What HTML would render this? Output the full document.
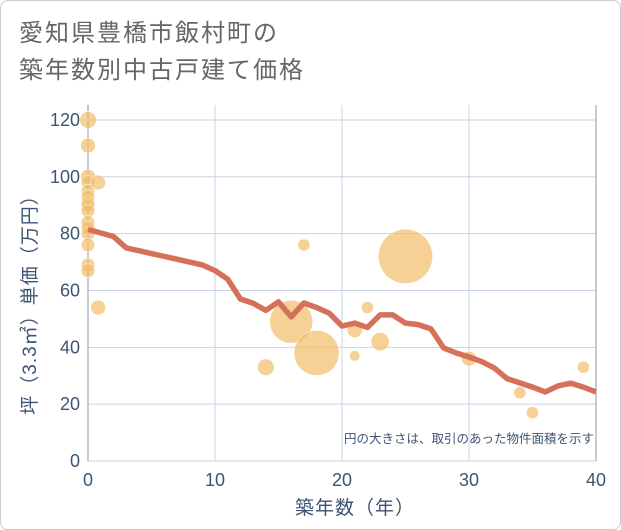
<!DOCTYPE html>
<html><head><meta charset="utf-8"><style>
body{margin:0;background:#fff;font-family:"Liberation Sans","Noto Sans CJK JP",sans-serif}
#wrap{position:relative;width:619px;height:528px;border:1px solid #ccc;border-radius:8px;overflow:hidden}
h1{position:absolute;left:18px;top:14px;margin:0;font-weight:normal;font-size:24px;line-height:37px;color:#666;letter-spacing:2px}
</style></head><body>
<div id="wrap">
<h1>愛知県豊橋市飯村町の<br>築年数別中古戸建て価格</h1>
<svg id="c" width="621" height="530" style="position:absolute;left:-1px;top:-1px"></svg>
</div>
<script>
const xTicks=[0,10,20,30,40];
const yTicks=[0,20,40,60,80,100,120];
const lineX=[0,2,3,4,5,6,7,8,9,10,11,12,13,14,15,16,17,18,19,20,21,22,23,24,25,26,27,28,29,30,31,32,33,34,35,36,37,38,39,40];
const lineY=[81.5,79,75,74,73,72,71,70,69,67,64,57,55.5,53,56,50.7,55.6,54,52,47.5,48.5,47,51.4,51.4,48.5,48,46.5,39.8,38,36.6,35,32.7,29,27.5,26,24.3,26.4,27.4,26,24.3];
const bubX=[0,0,0,0,0,0,0,0,0,0,0,0,0,0,0,0.8,0.8,14,16,17,18,21,21,22,23,25,30,34,35,39];
const bubY=[120,111,100,98,95,93,91,90,88,84,82,80,76,69,67,98,54,33,49,76,38,46,37,54,42,72,36,24,17,33];
const bubS=[1.5,1.2,1.2,1,1,1,1,1,1,1,1,1,1,1,1,1.2,1.2,1.5,10,0.8,11,1.2,0.6,0.8,1.8,16,1.2,0.8,0.8,0.8];
const NS="http://www.w3.org/2000/svg";
const svg=document.getElementById('c');
const X=v=>88+v*12.7, Y=v=>461-v*2.842;
const TC='#3d5573';
function mk(t,a,p){const e=document.createElementNS(NS,t);for(const k in a)e.setAttribute(k,a[k]);(p||svg).appendChild(e);return e;}
const bg=mk('rect',{x:88,y:105,width:508,height:356,fill:'#fff'});


yTicks.forEach(v=>{
 const l=mk('line',{x1:88,x2:596,y1:Y(v),y2:Y(v),stroke:'#c8d4e3','stroke-width':1});
 
 
 const t=mk('text',{x:80,y:Y(v)+6,'text-anchor':'end','font-size':18,fill:TC});t.textContent=v;
 
 
});
xTicks.forEach(v=>{
 const l=mk('line',{x1:X(v),x2:X(v),y1:105,y2:461,stroke:'#c8d4e3','stroke-width':1});
 
 
 const t=mk('text',{x:X(v),y:486,'text-anchor':'middle','font-size':18,fill:TC});t.textContent=v;
 
 
});
const ax=mk('line',{x1:88,x2:88,y1:105,y2:461,stroke:'#8a97a8','stroke-width':1});


const ax2=mk('line',{x1:596,x2:596,y1:105,y2:461,stroke:'#8a97a8','stroke-width':1});


bubX.forEach((v,i)=>{
 const c=mk('circle',{cx:X(v),cy:Y(bubY[i]),r:6.8*Math.sqrt(bubS[i]),fill:'#f2bd68','fill-opacity':0.7,stroke:'#fff','stroke-width':0.5});
 
 
});
const p=mk('polyline',{points:lineX.map((v,i)=>X(v)+','+Y(lineY[i])).join(' '),fill:'none',stroke:'#d6705a','stroke-width':5.5,'stroke-linejoin':'round'});


const n=mk('text',{x:594,y:443,'text-anchor':'end','font-size':12.5,fill:TC});n.textContent='円の大きさは、取引のあった物件面積を示す';


const xt=mk('text',{x:355,y:514,'text-anchor':'middle','font-size':19,fill:TC,'letter-spacing':1});xt.textContent='築年数（年）';


const yt=mk('text',{x:0,y:0,'text-anchor':'middle','font-size':19,fill:TC,'letter-spacing':1,transform:'translate(36,300) rotate(-90)'});yt.textContent='坪（3.3㎡）単価（万円）';


</script>
</body></html>
